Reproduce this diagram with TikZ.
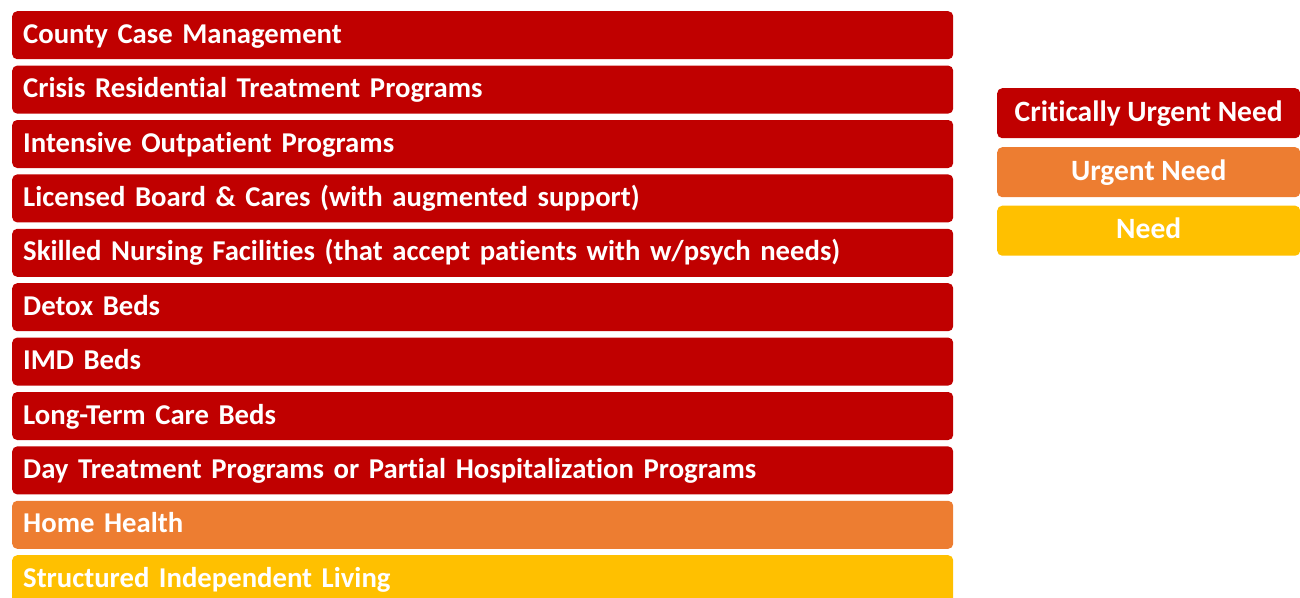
\documentclass[tikz,border=0pt]{standalone}
\usepackage{fontspec}
\setmainfont[Ligatures=CommonOff]{Carlito}
\definecolor{critred}{HTML}{C00000}
\definecolor{urgorange}{HTML}{ED7D31}
\definecolor{needyellow}{HTML}{FFC000}
\tikzset{
  bar/.style={anchor=north west, rounded corners=5pt, minimum height=48pt,
    text width=919pt, inner xsep=11pt, inner ysep=0pt, align=left,
    text height=20.5pt, text depth=4.5pt,
    text=white, font=\fontsize{28.7}{32}\selectfont\bfseries},
  legendbox/.style={anchor=north west, rounded corners=5pt, minimum height=50pt,
    minimum width=303pt, inner sep=0pt, align=center,
    text height=20.5pt, text depth=4.5pt,
    text=white, font=\fontsize{29.5}{32}\selectfont\bfseries}
}
\begin{document}
\begin{tikzpicture}[x=1pt,y=-1pt]
        \useasboundingbox (0,0) rectangle (1300,597);
        % ==== SERVICE BARS ====
        \node[bar, fill=critred] (casemgmt) at (12,11) {County Case Management};
        \node[bar, fill=critred] (crisis) at (12,65.4) {Crisis Residential Treatment Programs};
        \node[bar, fill=critred] (outpatient) at (12,119.8) {Intensive Outpatient Programs};
        \node[bar, fill=critred] (boardcare) at (12,174.2) {Licensed Board \& Cares (with augmented support)};
        \node[bar, fill=critred] (nursing) at (12,228.6) {Skilled Nursing Facilities (that accept patients with w/psych needs)};
        \node[bar, fill=critred] (detox) at (12,283) {Detox Beds};
        \node[bar, fill=critred] (imd) at (12,337.4) {IMD Beds};
        \node[bar, fill=critred] (longterm) at (12,391.8) {Long-Term Care Beds};
        \node[bar, fill=critred] (daytreat) at (12,446.2) {Day Treatment Programs or Partial Hospitalization Programs};
        \node[bar, fill=urgorange] (homehealth) at (12,500.6) {Home Health};
        \node[bar, fill=needyellow] (living) at (12,555) {Structured Independent Living};
        % ==== LEGEND ====
        \node[legendbox, fill=critred] (critical) at (997,88) {Critically Urgent Need};
        \node[legendbox, fill=urgorange] (urgent) at (997,147) {Urgent Need};
        \node[legendbox, fill=needyellow] (need) at (997,205.5) {Need};
\end{tikzpicture}
\end{document}
